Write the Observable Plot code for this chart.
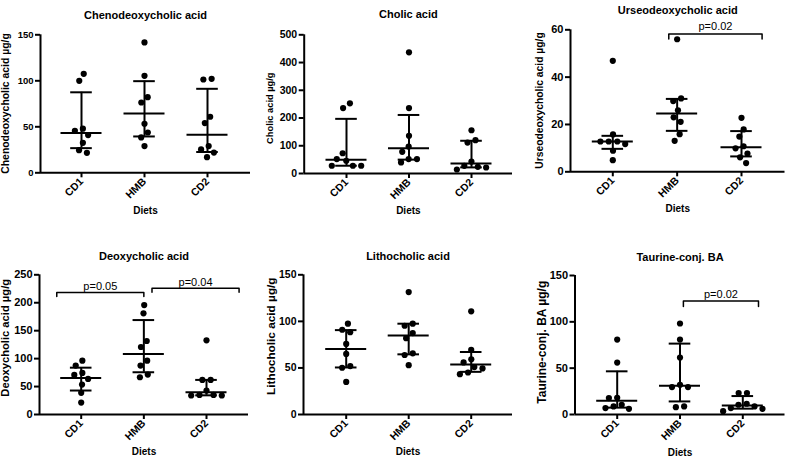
<!DOCTYPE html>
<html>
<head>
<meta charset="utf-8">
<script src="https://cdn.jsdelivr.net/npm/d3@7"></script>
<script src="https://cdn.jsdelivr.net/npm/@observablehq/plot@0.6"></script>
<style>
html, body { margin: 0; padding: 0; background: #fff; }
#chart { position: relative; width: 785px; height: 463px; overflow: hidden; background: #fff; }
.panel { position: absolute; }
</style>
</head>
<body>
<div id="chart"></div>
<script>
// ---------- data ----------
const diets = ["CD1", "HMB", "CD2"];

const chenoValues = {
  CD1: [107.6, 100, 48, 45.6, 41, 32.6, 24.6, 21.7],
  HMB: [141.7, 105.4, 82.2, 76.4, 53.3, 43.8, 38.4, 29],
  CD2: [102.2, 101.4, 60.9, 54, 29, 25.4, 22, 17]
};
const chenoMedian = [43.3, 64.5, 41.3];
const chenoQ1 = [26.8, 39.5, 22.6];
const chenoQ3 = [87.5, 99.6, 91.3];
const chenoTicks = [0, 50, 100, 150];

const cholicValues = {
  CD1: [253, 236, 73, 52, 46, 28, 28, 28],
  HMB: [437, 236, 136, 97, 78, 52, 52, 40],
  CD2: [156, 120, 111.5, 43, 27.7, 24, 21.6, 14.4]
};
const cholicMedian = [50, 91, 36];
const cholicQ1 = [28, 50, 22];
const cholicQ3 = [197, 211, 118];
const cholicTicks = [0, 100, 200, 300, 400, 500];

const urseoValues = {
  CD1: [46.9, 15.8, 12.8, 12.8, 12.8, 11.7, 8.9, 4.9],
  HMB: [56, 31, 29.9, 26, 23, 21.1, 15.9, 13.1],
  CD2: [22.8, 17.9, 14.9, 10.8, 9.9, 7.7, 6.1, 3.7]
};
const urseoMedian = [12.8, 24.6, 10.4];
const urseoQ1 = [9.7, 17.3, 6.5];
const urseoQ3 = [15.2, 30.8, 17.2];
const urseoTicks = [0, 20, 40, 60];
const urseoBrackets = [{from: 0.87, to: 2.32, y: 58.2, label: "p=0.02"}];

const deoxyValues = {
  CD1: [96.4, 87.5, 74.4, 70.8, 63.7, 53.6, 38.7, 21.4],
  HMB: [195.8, 181, 131.5, 120.8, 96.4, 87.5, 71.4, 66.7],
  CD2: [132.7, 61.9, 61.9, 42.9, 35, 35, 34, 34]
};
const deoxyMedian = [65.5, 108.3, 39.9];
const deoxyQ1 = [42.9, 75.6, 34.3];
const deoxyQ3 = [83.8, 169, 61.9];
const deoxyTicks = [0, 50, 100, 150, 200, 250];
const deoxyBrackets = [
  {from: -0.39, to: 1.0, y: 218.4, label: "p=0.05"},
  {from: 1.13, to: 2.52, y: 226, label: "p=0.04"}
];

const lithoValues = {
  CD1: [97.5, 91, 88.4, 75.8, 65, 52, 50.2, 35],
  HMB: [131.4, 97.5, 95.3, 87.4, 82, 65.7, 63.9, 53],
  CD2: [110.8, 69.3, 59.2, 55.9, 50.9, 49.5, 45.1, 43.3]
};
const lithoMedian = [70.4, 84.8, 53.8];
const lithoQ1 = [50.5, 64.6, 45.8];
const lithoQ3 = [90.6, 97.5, 67.1];
const lithoTicks = [0, 50, 100, 150];

const taurineValues = {
  CD1: [80.9, 56, 18, 17.7, 10.5, 8.7, 6.9, 6.1],
  HMB: [98.2, 80.9, 61.4, 32, 29.6, 29.6, 8.7, 7.9],
  CD2: [23.1, 23.1, 11.6, 10.5, 8.7, 6.9, 6.1, 3.6]
};
const taurineMedian = [14.8, 31, 9.7];
const taurineQ1 = [7.4, 14.1, 6.3];
const taurineQ3 = [46.6, 76.5, 19.9];
const taurineTicks = [0, 50, 100, 150];
const taurineBrackets = [{from: 1.054, to: 2.25, y: 122.4, label: "p=0.02"}];

// ---------- layout (page pixel geometry & styles) ----------
const panels = [
  {title: "Chenodeoxycholic acid", ylabel: "Chenodeoxycholic acid µg/g",
   values: chenoValues, median: chenoMedian, q1: chenoQ1, q3: chenoQ3, ticks: chenoTicks, brackets: [],
   box: {left: 0, top: 0, width: 262, height: 228},
   frame: {left: 40, right: 250, top: 34.3, bottom: 172.3}, centers: [81, 207],
   titleY: 10.7, dietsY: 213, ylab: {x: 5, y: 103, size: 10.4}, tickFont: 9.5},
  {title: "Cholic acid", ylabel: "Cholic acid µg/g",
   values: cholicValues, median: cholicMedian, q1: cholicQ1, q3: cholicQ3, ticks: cholicTicks, brackets: [],
   box: {left: 262, top: 0, width: 262, height: 228},
   frame: {left: 303.7, right: 512, top: 34.3, bottom: 173}, centers: [346, 471],
   titleY: 10, dietsY: 213, ylab: {x: 269.3, y: 107.7, size: 9.3}, tickFont: 10.5},
  {title: "Urseodeoxycholic acid", ylabel: "Urseodeoxycholic acid µg/g",
   values: urseoValues, median: urseoMedian, q1: urseoQ1, q3: urseoQ3, ticks: urseoTicks, brackets: urseoBrackets,
   box: {left: 524, top: 0, width: 261, height: 228},
   frame: {left: 570, right: 784.5, top: 29.3, bottom: 171.3}, centers: [612.3, 741],
   titleY: 6, dietsY: 211.7, ylab: {x: 539, y: 100, size: 10.3}, tickFont: 11,
   bracketTick: 5, bracketDy: -8},
  {title: "Deoxycholic acid", ylabel: "Deoxycholic acid µg/g",
   values: deoxyValues, median: deoxyMedian, q1: deoxyQ1, q3: deoxyQ3, ticks: deoxyTicks, brackets: deoxyBrackets,
   box: {left: 0, top: 230, width: 262, height: 233},
   frame: {left: 39, right: 248, top: 274.3, bottom: 414}, centers: [80.7, 206],
   titleY: 251.7, dietsY: 454, ylab: {x: 5, y: 337.3, size: 11.2}, tickFont: 11,
   bracketTick: 4, bracketDy: -5.5},
  {title: "Lithocholic acid", ylabel: "Lithocholic acid µg/g",
   values: lithoValues, median: lithoMedian, q1: lithoQ1, q3: lithoQ3, ticks: lithoTicks, brackets: [],
   box: {left: 262, top: 230, width: 262, height: 233},
   frame: {left: 303, right: 512, top: 274.3, bottom: 414}, centers: [345.7, 470.7],
   titleY: 251.7, dietsY: 454, ylab: {x: 270.3, y: 335.7, size: 11.8}, tickFont: 10.5},
  {title: "Taurine-conj. BA", ylabel: "Taurine-conj. BA µg/g",
   values: taurineValues, median: taurineMedian, q1: taurineQ1, q3: taurineQ3, ticks: taurineTicks, brackets: taurineBrackets,
   box: {left: 524, top: 230, width: 261, height: 233},
   frame: {left: 574.5, right: 784.5, top: 275, bottom: 414}, centers: [616.7, 742.3],
   titleY: 252.7, dietsY: 455, ylab: {x: 541.3, y: 341.7, size: 12}, tickFont: 11,
   bracketTick: 5.5, bracketDy: -7}
];

const FONT = '"Liberation Sans", Arial, Helvetica, sans-serif';
const DOT_R = 3.1;
const DODGE = 8.3;      // min centre distance between dots (px)
const MED_HALF = 20.5;  // half width of median line (px)
const CAP_HALF = 10.8;  // half width of IQR caps (px)

// beeswarm offsets (px) for one group of values; touching clusters are re-centred
function swarm(values, pxPerUnit, D) {
  const n = values.length;
  const order = d3.range(n).sort((a, b) => values[b] - values[a]);
  const placed = [];
  const off = new Array(n).fill(0);
  for (const i of order) {
    const y = values[i] * pxPerUnit;
    const cands = [0];
    for (const p of placed) {
      const dy = y - p.y;
      if (Math.abs(dy) < D) {
        const dx = Math.sqrt(D * D - dy * dy);
        cands.push(p.x + dx, p.x - dx);
      }
    }
    cands.sort((a, b) => Math.abs(a) - Math.abs(b) || a - b);
    for (const c of cands) {
      if (placed.every(p => (p.x - c) ** 2 + (p.y - y) ** 2 >= D * D - 1e-6)) {
        off[i] = c; placed.push({x: c, y}); break;
      }
    }
  }
  // group consecutive (by value) points closer than D vertically and centre each group
  let group = [order[0]];
  const flush = () => {
    const xs = group.map(k => off[k]);
    const mid = (d3.min(xs) + d3.max(xs)) / 2;
    group.forEach(k => off[k] -= mid);
  };
  for (let t = 1; t < n; t++) {
    const a = order[t - 1], b = order[t];
    if ((values[a] - values[b]) * pxPerUnit < D) group.push(b);
    else { flush(); group = [b]; }
  }
  flush();
  return off;
}

function draw(p) {
  const W = p.box.width, H = p.box.height;
  const mL = p.frame.left - p.box.left;
  const mR = p.box.left + W - p.frame.right;
  const mT = p.frame.top - p.box.top;
  const mB = p.box.top + H - p.frame.bottom;
  const step = (p.centers[1] - p.centers[0]) / 2;
  const x0 = -(p.centers[0] - p.frame.left) / step;
  const x1 = 2 + (p.frame.right - p.centers[1]) / step;
  const ymax = d3.max(p.ticks);
  const pxPerUnit = (p.frame.bottom - p.frame.top) / ymax;

  const pts = [];
  diets.forEach((g, i) => {
    const vals = p.values[g];
    const off = swarm(vals, pxPerUnit, DODGE);
    vals.forEach((v, k) => pts.push({diet: g, i, v, x: i + off[k] / step}));
  });
  const stats = diets.map((g, i) => ({diet: g, i, median: p.median[i], q1: p.q1[i], q3: p.q3[i]}));
  const mh = MED_HALF / step, ch = CAP_HALF / step;
  const bpts = p.brackets.flatMap((b, j) => {
    const h = (p.bracketTick || 5) / pxPerUnit;
    return [
      {j, x: b.from, y: b.y - h}, {j, x: b.from, y: b.y},
      {j, x: b.to, y: b.y}, {j, x: b.to, y: b.y - h}
    ];
  });

  return Plot.plot({
    width: W, height: H,
    marginLeft: mL, marginRight: mR, marginTop: mT, marginBottom: mB,
    x: {domain: [x0, x1]},
    y: {domain: [0, ymax]},
    style: {fontFamily: FONT, fontWeight: "bold", color: "#000", background: "transparent", overflow: "visible"},
    marks: [
      Plot.axisY(p.ticks, {tickSize: 5, tickPadding: 2, strokeWidth: 2, fontSize: p.tickFont, label: null}),
      Plot.axisX([0, 1, 2], {tickFormat: i => diets[i], tickRotate: -45, tickSize: 5, tickPadding: 2,
        strokeWidth: 2, fontSize: 10.5, label: null}),
      Plot.ruleY([0], {strokeWidth: 2}),
      Plot.ruleX([x0], {strokeWidth: 2}),
      Plot.dot(pts, {x: "x", y: "v", r: DOT_R, fill: "#000"}),
      Plot.ruleY(stats, {y: "median", x1: d => d.i - mh, x2: d => d.i + mh, strokeWidth: 2}),
      Plot.ruleY(stats, {y: "q1", x1: d => d.i - ch, x2: d => d.i + ch, strokeWidth: 2}),
      Plot.ruleY(stats, {y: "q3", x1: d => d.i - ch, x2: d => d.i + ch, strokeWidth: 2}),
      Plot.ruleX(stats, {x: "i", y1: "q1", y2: "q3", strokeWidth: 2}),
      Plot.line(bpts, {x: "x", y: "y", z: "j", strokeWidth: 1.5}),
      Plot.text(p.brackets, {x: d => (d.from + d.to) / 2, y: "y", text: "label", dy: p.bracketDy || -7,
        fontSize: 11, fontWeight: "normal"}),
      Plot.text([p.title], {text: d => d, frameAnchor: "top", textAnchor: "middle",
        dy: p.titleY - p.frame.top, fontSize: 11}),
      Plot.text(["Diets"], {text: d => d, frameAnchor: "bottom", textAnchor: "middle",
        dy: p.dietsY - p.frame.bottom, fontSize: 10}),
      Plot.text([p.ylabel], {text: d => d, frameAnchor: "left", textAnchor: "middle", rotate: -90,
        dx: p.ylab.x - p.frame.left, dy: p.ylab.y - (p.frame.top + p.frame.bottom) / 2, fontSize: p.ylab.size})
    ]
  });
}

const chart = document.getElementById("chart");
for (const p of panels) {
  const div = document.createElement("div");
  div.className = "panel";
  div.style.left = p.box.left + "px";
  div.style.top = p.box.top + "px";
  div.appendChild(draw(p));
  chart.appendChild(div);
}
</script>
</body>
</html>
